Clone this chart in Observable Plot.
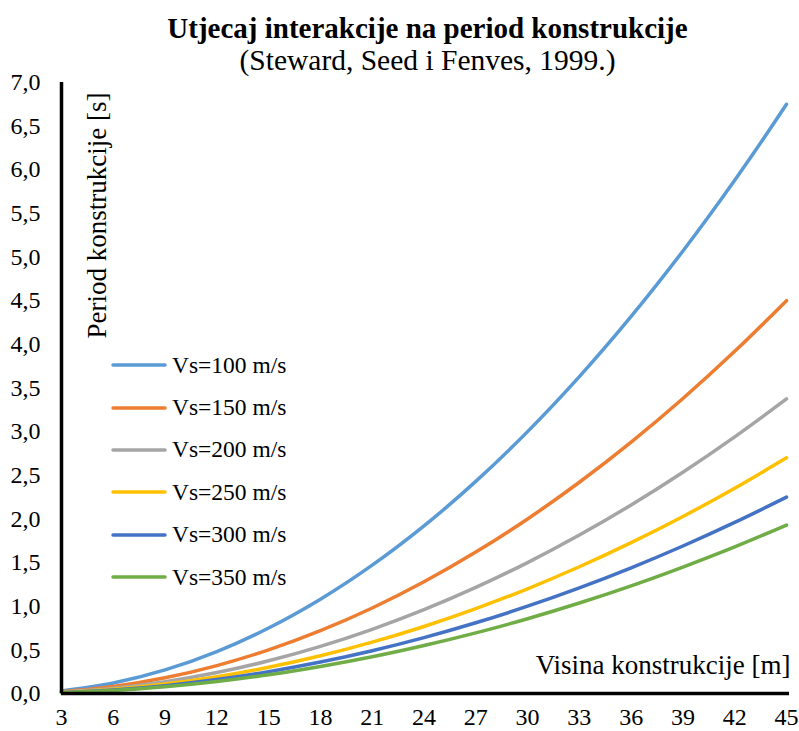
<!DOCTYPE html>
<html>
<head>
<meta charset="utf-8">
<script src="https://cdn.jsdelivr.net/npm/d3@7"></script>
<script src="https://cdn.jsdelivr.net/npm/@observablehq/plot@0.6"></script>
<style>
  html, body { margin: 0; padding: 0; background: #fff; }
  body { position: relative; width: 799px; height: 731px; overflow: hidden; font-family: "Liberation Serif", "Times New Roman", serif; }
  #title { position: absolute; top: 11px; left: 0; width: 799px; padding-left: 56px; box-sizing: border-box; text-align: center; font-weight: bold; font-size: 29px; line-height: 34px; color: #000; }
  #subtitle { position: absolute; top: 43px; left: 0; width: 799px; padding-left: 56px; box-sizing: border-box; text-align: center; font-size: 29.5px; line-height: 34px; color: #000; }
  #chart { position: absolute; top: 70px; left: 0; }
  #chart svg, #chart svg text { font-family: "Liberation Serif", "Times New Roman", serif !important; }
  #legend { position: absolute; left: 111px; top: 344px; font-size: 23.5px; color: #000; }
  .item { display: flex; align-items: center; height: 42.4px; }
  .item svg { margin-right: 5px; }
</style>
</head>
<body>
<div id="title">Utjecaj interakcije na period konstrukcije</div>
<div id="subtitle">(Steward, Seed i Fenves, 1999.)</div>
<div id="chart"></div>
<div id="legend"></div>
<script>
// Data
const heights = [3, 6, 9, 12, 15, 18, 21, 24, 27, 30, 33, 36, 39, 42, 45];
const seriesNames = ["Vs=100 m/s", "Vs=150 m/s", "Vs=200 m/s", "Vs=250 m/s", "Vs=300 m/s", "Vs=350 m/s"];
const vs100 = [0.03, 0.12, 0.27, 0.48, 0.75, 1.08, 1.47, 1.92, 2.43, 3.00, 3.63, 4.32, 5.07, 5.88, 6.75];
const vs150 = [0.02, 0.08, 0.18, 0.32, 0.50, 0.72, 0.98, 1.28, 1.62, 2.00, 2.42, 2.88, 3.38, 3.92, 4.50];
const vs200 = [0.015, 0.06, 0.135, 0.24, 0.375, 0.54, 0.735, 0.96, 1.215, 1.50, 1.815, 2.16, 2.535, 2.94, 3.375];
const vs250 = [0.012, 0.048, 0.108, 0.192, 0.30, 0.432, 0.588, 0.768, 0.972, 1.20, 1.452, 1.728, 2.028, 2.352, 2.70];
const vs300 = [0.01, 0.04, 0.09, 0.16, 0.25, 0.36, 0.49, 0.64, 0.81, 1.00, 1.21, 1.44, 1.69, 1.96, 2.25];
const vs350 = [0.009, 0.034, 0.077, 0.137, 0.214, 0.309, 0.42, 0.549, 0.694, 0.857, 1.037, 1.234, 1.449, 1.68, 1.93];
const colors = ["#5B9BD5", "#ED7D31", "#A5A5A5", "#FFC000", "#4472C4", "#70AD47"];
const yTicks = [0, 0.5, 1, 1.5, 2, 2.5, 3, 3.5, 4, 4.5, 5, 5.5, 6, 6.5, 7];
const xTicks = heights;
const yLabel = "Period konstrukcije [s]";
const xLabel = "Visina konstrukcije [m]";

const allSeries = [vs100, vs150, vs200, vs250, vs300, vs350];
const rows = [];
allSeries.forEach((vals, i) => {
  vals.forEach((v, j) => rows.push({h: heights[j], t: v, s: seriesNames[i]}));
});

const fmt = d => d.toFixed(1).replace(".", ",");

const chart = Plot.plot({
  width: 799,
  height: 661,
  marginTop: 12,
  marginBottom: 38,
  marginLeft: 61,
  marginRight: 13,
  style: {fontFamily: "Liberation Serif, serif", fontSize: "24px", color: "#000", background: "transparent"},
  x: {domain: [3, 45], ticks: xTicks, tickSize: 0, tickPadding: 14, tickFormat: d => String(d), label: null},
  y: {domain: [0, 7], ticks: yTicks, tickSize: 0, tickPadding: 21, tickFormat: fmt, label: null},
  color: {domain: seriesNames, range: colors},
  marks: [
    Plot.line(rows, {x: "h", y: "t", z: "s", stroke: "s", strokeWidth: 3.5, curve: "catmull-rom", strokeLinecap: "round"}),
    Plot.ruleX([3], {stroke: "#000", strokeWidth: 3.5}),
    Plot.ruleY([0], {stroke: "#000", strokeWidth: 3.5, insetRight: -3}),
    Plot.text([yLabel], {frameAnchor: "top-left", rotate: -90, textAnchor: "end", dx: 25, dy: 10, fontSize: 27, fill: "#000"}),
    Plot.text([xLabel], {frameAnchor: "bottom-right", textAnchor: "end", dx: 4, dy: -20, fontSize: 27, fill: "#000"})
  ]
});
document.getElementById("chart").appendChild(chart);

const legend = document.getElementById("legend");
seriesNames.forEach((name, i) => {
  const item = document.createElement("div");
  item.className = "item";
  item.innerHTML = `<svg width="56" height="8"><line x1="2" y1="4" x2="54" y2="4" stroke="${colors[i]}" stroke-width="3.5" stroke-linecap="round"/></svg><span>${name}</span>`;
  legend.appendChild(item);
});
</script>
</body>
</html>
